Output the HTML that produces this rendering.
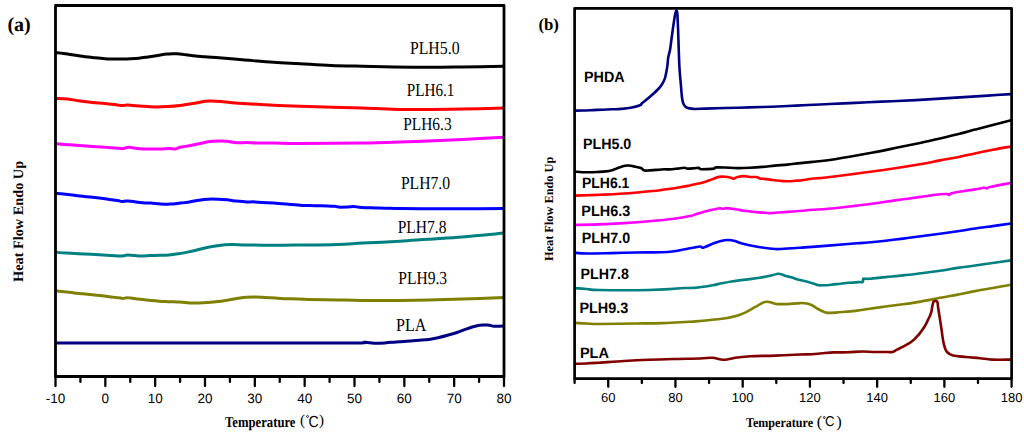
<!DOCTYPE html>
<html><head><meta charset="utf-8"><title>DSC curves</title>
<style>html,body{margin:0;padding:0;background:#fff;width:1024px;height:433px;overflow:hidden}svg{display:block}text{text-rendering:geometricPrecision}</style>
</head><body>
<svg width="1024" height="433" viewBox="0 0 1024 433">
<path d="M55 52.5 C57.08 52.75 63.33 53.42 67.5 54 C71.67 54.58 75.83 55.42 80 56 C84.17 56.58 88.33 57.04 92.5 57.5 C96.67 57.96 100.42 58.48 105 58.75 C109.58 59.02 115.93 59.09 120 59.1 C124.07 59.11 126.23 58.95 129.4 58.8 C132.57 58.65 135.9 58.52 139 58.2 C142.1 57.88 144.83 57.37 148 56.9 C151.17 56.43 154.83 55.87 158 55.4 C161.17 54.93 164.67 54.38 167 54.1 C169.33 53.82 170.33 53.75 172 53.7 C173.67 53.65 174.67 53.62 177 53.8 C179.33 53.98 182.9 54.43 186 54.8 C189.1 55.17 192.43 55.68 195.6 56 C198.77 56.32 201.6 56.43 205 56.7 C208.4 56.97 209.75 57.09 216 57.6 C222.25 58.11 232.88 58.97 242.5 59.75 C252.12 60.53 264.17 61.64 273.75 62.3 C283.33 62.96 290.46 63.18 300 63.7 C309.54 64.22 320.58 64.98 331 65.4 C341.42 65.83 352.04 66 362.5 66.25 C372.96 66.5 382.33 66.73 393.75 66.9 C405.17 67.07 419.54 67.25 431 67.25 C442.46 67.25 450.33 67.07 462.5 66.9 C474.67 66.73 497.08 66.36 504 66.25" fill="none" stroke="#000000" stroke-width="3.0" stroke-linejoin="round" stroke-linecap="butt"/>
<path d="M55 98.5 C57.08 98.58 63.33 98.58 67.5 99 C71.67 99.42 75.83 100.42 80 101 C84.17 101.58 88.33 102.08 92.5 102.5 C96.67 102.92 100.83 103.08 105 103.5 C109.17 103.92 114.58 104.65 117.5 105 C120.42 105.35 120.83 105.6 122.5 105.6 C124.17 105.6 124.17 104.89 127.5 105 C130.83 105.11 137.92 105.93 142.5 106.25 C147.08 106.57 150.83 106.86 155 106.9 C159.17 106.94 163.33 106.75 167.5 106.5 C171.67 106.25 175.83 105.9 180 105.4 C184.17 104.9 188.33 104.19 192.5 103.5 C196.67 102.81 201.88 101.68 205 101.25 C208.12 100.82 208.54 100.86 211.25 100.9 C213.96 100.94 218.12 101.23 221.25 101.5 C224.38 101.77 226.46 102.18 230 102.5 C233.54 102.82 235.21 102.94 242.5 103.4 C249.79 103.86 264.17 104.78 273.75 105.25 C283.33 105.72 285.21 105.78 300 106.25 C314.79 106.72 345.83 107.57 362.5 108.1 C379.17 108.62 389.08 109.18 400 109.4 C410.92 109.62 417.58 109.45 428 109.4 C438.42 109.35 449.83 109.32 462.5 109.1 C475.17 108.88 497.08 108.27 504 108.1" fill="none" stroke="#ff0000" stroke-width="3.0" stroke-linejoin="round" stroke-linecap="butt"/>
<path d="M55 143.5 C56.57 143.65 61.23 144.13 64.4 144.4 C67.57 144.67 70.9 144.87 74 145.1 C77.1 145.33 79.92 145.57 83 145.8 C86.08 146.03 89.33 146.28 92.5 146.5 C95.67 146.72 98.92 146.9 102 147.1 C105.08 147.3 107.9 147.47 111 147.7 C114.1 147.93 118.6 148.35 120.6 148.5 C122.6 148.65 121.93 148.78 123 148.6 C124.07 148.42 125.67 147.58 127 147.4 C128.33 147.22 128.88 147.27 131 147.5 C133.12 147.73 136.37 148.55 139.7 148.8 C143.03 149.05 147.55 148.97 151 149 C154.45 149.03 157.23 149.1 160.4 149 C163.57 148.9 167.57 148.4 170 148.4 C172.43 148.4 173.33 149.18 175 149 C176.67 148.82 177.6 147.85 180 147.3 C182.4 146.75 186.23 146.28 189.4 145.7 C192.57 145.12 195.9 144.45 199 143.8 C202.1 143.15 204.83 142.27 208 141.8 C211.17 141.33 214.83 141.08 218 141 C221.17 140.92 223.92 141 227 141.3 C230.08 141.6 233.17 142.58 236.5 142.8 C239.83 143.02 243.92 142.58 247 142.6 C250.08 142.62 250.54 142.82 255 142.9 C259.46 142.98 266.25 143.02 273.75 143.1 C281.25 143.18 285.21 143.4 300 143.4 C314.79 143.4 345.83 143.32 362.5 143.1 C379.17 142.88 389.08 142.45 400 142.1 C410.92 141.75 417.58 141.45 428 141 C438.42 140.55 449.83 140.03 462.5 139.4 C475.17 138.78 497.08 137.61 504 137.25" fill="none" stroke="#ff00ff" stroke-width="3.0" stroke-linejoin="round" stroke-linecap="butt"/>
<path d="M55 193.4 C57.08 193.57 63.33 193.97 67.5 194.4 C71.67 194.83 75.83 195.53 80 196 C84.17 196.47 88.33 196.79 92.5 197.25 C96.67 197.71 100.83 198.19 105 198.75 C109.17 199.31 114.67 200.14 117.5 200.6 C120.33 201.06 120.25 201.43 122 201.5 C123.75 201.57 124.58 200.79 128 201 C131.42 201.21 138.67 202.4 142.5 202.75 C146.33 203.1 148.02 202.91 151 203.1 C153.98 203.29 157.23 203.73 160.4 203.9 C163.57 204.07 166.73 204.23 170 204.1 C173.27 203.97 176.77 203.45 180 203.1 C183.23 202.75 186.23 202.48 189.4 202 C192.57 201.52 195.9 200.67 199 200.2 C202.1 199.73 204.83 199.37 208 199.2 C211.17 199.03 214.83 199.1 218 199.2 C221.17 199.3 223.92 199.48 227 199.8 C230.08 200.12 233.17 200.73 236.5 201.1 C239.83 201.47 243.92 201.87 247 202 C250.08 202.13 250.54 201.72 255 201.9 C259.46 202.08 266.25 202.55 273.75 203.1 C281.25 203.65 294.06 204.82 300 205.2 C305.94 205.58 306.23 205.3 309.4 205.4 C312.57 205.5 315.9 205.68 319 205.8 C322.1 205.92 325.33 206.02 328 206.1 C330.67 206.18 333.25 206.13 335 206.3 C336.75 206.47 336.5 206.98 338.5 207.1 C340.5 207.22 344.42 207.1 347 207 C349.58 206.9 352 206.45 354 206.5 C356 206.55 357 207.1 359 207.3 C361 207.5 363.25 207.6 366 207.7 C368.75 207.8 372.33 207.82 375.5 207.9 C378.67 207.98 381.58 208.1 385 208.2 C388.42 208.3 393.5 208.45 396 208.5 C398.5 208.55 394.67 208.46 400 208.5 C405.33 208.54 417.58 208.71 428 208.75 C438.42 208.79 449.83 208.79 462.5 208.75 C475.17 208.71 497.08 208.54 504 208.5" fill="none" stroke="#0000ff" stroke-width="3.0" stroke-linejoin="round" stroke-linecap="butt"/>
<path d="M55 252.2 C57 252.35 62 252.8 67 253.1 C72 253.4 79 253.68 85 254 C91 254.32 98 254.72 103 255 C108 255.28 111.83 255.52 115 255.7 C118.17 255.88 119.83 256.23 122 256.1 C124.17 255.97 124.83 254.92 128 254.9 C131.17 254.88 137.33 255.9 141 256 C144.67 256.1 146.93 255.62 150 255.5 C153.07 255.38 156.28 255.4 159.4 255.3 C162.52 255.2 165.6 255.16 168.7 254.9 C171.8 254.64 174.87 254.22 178 253.75 C181.13 253.28 184.33 252.72 187.5 252.1 C190.67 251.47 193.92 250.72 197 250 C200.08 249.28 202.9 248.47 206 247.8 C209.1 247.13 212.43 246.51 215.6 246 C218.77 245.49 221.93 244.98 225 244.75 C228.07 244.52 230.5 244.56 234 244.6 C237.5 244.64 239.38 244.89 246 245 C252.62 245.11 264.75 245.25 273.75 245.25 C282.75 245.25 289.38 245.14 300 245 C310.62 244.86 327.08 244.72 337.5 244.4 C347.92 244.08 352.08 243.62 362.5 243.1 C372.92 242.57 389.08 241.9 400 241.25 C410.92 240.6 417.58 239.92 428 239.2 C438.42 238.47 449.83 237.92 462.5 236.9 C475.17 235.88 497.08 233.73 504 233.1" fill="none" stroke="#008080" stroke-width="3.0" stroke-linejoin="round" stroke-linecap="butt"/>
<path d="M55 290.75 C56.57 290.91 61.23 291.34 64.4 291.7 C67.57 292.06 70.9 292.55 74 292.9 C77.1 293.25 79.92 293.48 83 293.8 C86.08 294.12 89.33 294.48 92.5 294.8 C95.67 295.12 98.92 295.35 102 295.7 C105.08 296.05 107.9 296.5 111 296.9 C114.1 297.3 118.6 297.85 120.6 298.1 C122.6 298.35 121.93 298.47 123 298.4 C124.07 298.33 125.67 297.75 127 297.7 C128.33 297.65 128.88 297.85 131 298.1 C133.12 298.35 136.37 298.82 139.7 299.2 C143.03 299.58 146.78 300.02 151 300.4 C155.22 300.78 160.17 301.22 165 301.5 C169.83 301.78 175.93 301.87 180 302.1 C184.07 302.33 186.23 302.75 189.4 302.9 C192.57 303.05 195.9 303.07 199 303 C202.1 302.93 204.83 302.73 208 302.5 C211.17 302.27 214.83 301.98 218 301.6 C221.17 301.22 223.92 300.72 227 300.2 C230.08 299.68 233.33 298.98 236.5 298.5 C239.67 298.02 242.92 297.57 246 297.3 C249.08 297.03 251.9 296.88 255 296.9 C258.1 296.92 261.1 297.2 264.6 297.4 C268.1 297.6 271.77 297.87 276 298.1 C280.23 298.33 284.67 298.58 290 298.8 C295.33 299.02 300.08 299.2 308 299.4 C315.92 299.6 328.42 299.83 337.5 300 C346.58 300.17 352.08 300.33 362.5 300.4 C372.92 300.47 389.08 300.47 400 300.4 C410.92 300.33 417.58 300.23 428 300 C438.42 299.77 449.83 299.42 462.5 299 C475.17 298.58 497.08 297.75 504 297.5" fill="none" stroke="#808000" stroke-width="3.0" stroke-linejoin="round" stroke-linecap="butt"/>
<path d="M55 343 C79.17 343 159.17 343.02 200 343 C240.83 342.98 273.08 342.92 300 342.9 C326.92 342.88 350.83 343.02 361.5 342.9 C372.17 342.78 362.58 342.22 364 342.2 C365.42 342.18 368 342.62 370 342.8 C372 342.98 373.5 343.28 376 343.3 C378.5 343.32 381.67 343.12 385 342.9 C388.33 342.68 392.83 342.25 396 342 C399.17 341.75 401.67 341.57 404 341.4 C406.33 341.23 407.43 341.18 410 341 C412.57 340.82 416.23 340.57 419.4 340.3 C422.57 340.03 425.9 339.83 429 339.4 C432.1 338.97 434.92 338.38 438 337.7 C441.08 337.02 444.33 336.17 447.5 335.3 C450.67 334.43 453.92 333.52 457 332.5 C460.08 331.48 463.33 330.15 466 329.2 C468.67 328.25 471 327.43 473 326.8 C475 326.17 476.33 325.7 478 325.4 C479.67 325.1 481.33 325.05 483 325 C484.67 324.95 486.67 325 488 325.1 C489.33 325.2 490 325.4 491 325.6 C492 325.8 492.5 326.2 494 326.3 C495.5 326.4 498.33 326.25 500 326.2 C501.67 326.15 503.33 326.03 504 326" fill="none" stroke="#000080" stroke-width="3.0" stroke-linejoin="round" stroke-linecap="butt"/>
<path d="M574 110.6 C575.57 110.58 580.23 110.58 583.4 110.5 C586.57 110.42 589.9 110.23 593 110.1 C596.1 109.97 598.83 109.83 602 109.7 C605.17 109.57 608.83 109.43 612 109.3 C615.17 109.17 617.9 109.15 621 108.9 C624.1 108.65 627.43 108.42 630.6 107.8 C633.77 107.18 638.07 106 640 105.2 C641.93 104.4 641.18 103.87 642.2 103 C643.22 102.13 644.43 101.37 646.1 100 C647.77 98.63 650.17 96.63 652.2 94.8 C654.23 92.97 656.63 90.8 658.3 89 C659.97 87.2 661.08 85.83 662.2 84 C663.32 82.17 664.17 80.83 665 78 C665.83 75.17 666.65 70.5 667.2 67 C667.75 63.5 667.83 59.83 668.3 57 C668.77 54.17 669.47 53 670 50 C670.53 47 671 42.67 671.5 39 C672 35.33 672.5 31.5 673 28 C673.5 24.5 674.07 20.62 674.5 18 C674.93 15.38 675.28 13.58 675.6 12.3 C675.92 11.02 676.13 10.3 676.4 10.3 C676.67 10.3 677 11.02 677.2 12.3 C677.4 13.58 677.45 15.05 677.6 18 C677.75 20.95 677.93 25.5 678.1 30 C678.27 34.5 678.43 40 678.6 45 C678.77 50 678.93 55.83 679.1 60 C679.27 64.17 679.3 65.83 679.6 70 C679.9 74.17 680.5 80.42 680.9 85 C681.3 89.58 681.58 94.38 682 97.5 C682.42 100.62 682.65 102.08 683.4 103.75 C684.15 105.42 684.82 106.64 686.5 107.5 C688.18 108.36 690.42 108.72 693.5 108.9 C696.58 109.08 699.75 108.75 705 108.6 C710.25 108.45 717.5 108.2 725 108 C732.5 107.8 742.17 107.62 750 107.4 C757.83 107.18 764.33 107 772 106.7 C779.67 106.4 788 105.97 796 105.6 C804 105.23 812 104.87 820 104.5 C828 104.13 836 103.78 844 103.4 C852 103.02 860 102.57 868 102.2 C876 101.83 884 101.55 892 101.2 C900 100.85 908 100.53 916 100.1 C924 99.67 932 99.1 940 98.6 C948 98.1 956 97.6 964 97.1 C972 96.6 980.17 96.1 988 95.6 C995.83 95.1 1007.17 94.35 1011 94.1" fill="none" stroke="#000080" stroke-width="2.6" stroke-linejoin="round" stroke-linecap="butt"/>
<path d="M574 171.5 C576.08 171.62 582.33 172.18 586.5 172.25 C590.67 172.32 595.75 172.04 599 171.9 C602.25 171.76 603.83 171.68 606 171.4 C608.17 171.12 609.92 170.82 612 170.2 C614.08 169.58 616.38 168.43 618.5 167.7 C620.62 166.97 623.08 166.17 624.75 165.8 C626.42 165.43 626.96 165.4 628.5 165.5 C630.04 165.6 631.92 165.98 634 166.4 C636.08 166.82 639.33 167.33 641 168 C642.67 168.67 642.83 169.98 644 170.4 C645.17 170.82 646 170.58 648 170.5 C650 170.42 653.33 170.1 656 169.9 C658.67 169.7 661.67 169.38 664 169.3 C666.33 169.22 667.75 169.52 670 169.4 C672.25 169.28 675.08 168.88 677.5 168.6 C679.92 168.32 682.92 167.7 684.5 167.7 C686.08 167.7 685.42 168.5 687 168.6 C688.58 168.7 692.08 168.42 694 168.3 C695.92 168.18 697.33 167.75 698.5 167.9 C699.67 168.05 699.5 169 701 169.2 C702.5 169.4 705.33 169.2 707.5 169.1 C709.67 169 712.58 168.88 714 168.6 C715.42 168.32 714.17 167.58 716 167.4 C717.83 167.22 721.42 167.38 725 167.5 C728.58 167.62 733.33 168.06 737.5 168.1 C741.67 168.14 745.83 167.95 750 167.75 C754.17 167.55 758.33 167.26 762.5 166.9 C766.67 166.54 770.83 165.98 775 165.6 C779.17 165.22 783.33 165.02 787.5 164.6 C791.67 164.18 795.83 163.55 800 163.1 C804.17 162.65 808.17 162.33 812.5 161.9 C816.83 161.47 819.85 161.37 826 160.5 C832.15 159.63 841.58 158.03 849.4 156.7 C857.22 155.37 865.08 153.98 872.9 152.5 C880.72 151.02 888.45 149.4 896.3 147.8 C904.15 146.2 912.72 144.47 920 142.9 C927.28 141.33 933.73 139.85 940 138.4 C946.27 136.95 951.77 135.67 957.6 134.2 C963.43 132.73 969.15 131.13 975 129.6 C980.85 128.07 986.7 126.57 992.7 125 C998.7 123.43 1007.95 121 1011 120.2" fill="none" stroke="#000000" stroke-width="2.6" stroke-linejoin="round" stroke-linecap="butt"/>
<path d="M574 195.6 C576.17 195.55 582.67 195.43 587 195.3 C591.33 195.17 594.5 195.05 600 194.8 C605.5 194.55 613.33 194.23 620 193.8 C626.67 193.37 633.33 192.8 640 192.2 C646.67 191.6 653.33 191.02 660 190.2 C666.67 189.38 675 188.1 680 187.3 C685 186.5 686.67 186.07 690 185.4 C693.33 184.73 697.33 183.93 700 183.3 C702.67 182.67 703.92 182.3 706 181.6 C708.08 180.9 710.33 179.88 712.5 179.1 C714.67 178.32 716.92 177.29 719 176.9 C721.08 176.51 723 176.6 725 176.75 C727 176.9 729.58 177.48 731 177.8 C732.42 178.12 732.42 178.83 733.5 178.7 C734.58 178.57 735.75 177.43 737.5 177 C739.25 176.57 741.92 176.1 744 176.1 C746.08 176.1 748 176.85 750 177 C752 177.15 754.33 176.77 756 177 C757.67 177.23 758.67 178.08 760 178.4 C761.33 178.72 762.33 178.7 764 178.9 C765.67 179.1 767.92 179.33 770 179.6 C772.08 179.87 774.33 180.25 776.5 180.5 C778.67 180.75 780.92 180.97 783 181.1 C785.08 181.22 787 181.3 789 181.25 C791 181.2 792.83 180.98 795 180.8 C797.17 180.62 799.83 180.46 802 180.2 C804.17 179.94 806 179.53 808 179.25 C810 178.97 812 178.69 814 178.5 C816 178.31 817.67 178.31 820 178.1 C822.33 177.89 821.83 178.02 828 177.25 C834.17 176.48 846.92 174.84 857 173.5 C867.08 172.16 878 170.75 888.5 169.2 C899 167.65 911.42 165.67 920 164.2 C928.58 162.73 933.73 161.57 940 160.4 C946.27 159.23 951.77 158.37 957.6 157.2 C963.43 156.03 969.15 154.63 975 153.4 C980.85 152.17 986.7 150.95 992.7 149.8 C998.7 148.65 1007.95 147.05 1011 146.5" fill="none" stroke="#ff0000" stroke-width="2.6" stroke-linejoin="round" stroke-linecap="butt"/>
<path d="M574 225 C578.17 224.9 590.67 224.72 599 224.4 C607.33 224.08 615.67 223.62 624 223.1 C632.33 222.57 640.67 221.97 649 221.25 C657.33 220.53 667.17 219.61 674 218.75 C680.83 217.89 686.33 216.86 690 216.1 C693.67 215.34 693.92 214.83 696 214.2 C698.08 213.57 700.33 212.93 702.5 212.3 C704.67 211.67 706.92 210.92 709 210.4 C711.08 209.88 713.17 209.56 715 209.2 C716.83 208.84 718.75 208.32 720 208.25 C721.25 208.18 721.33 208.78 722.5 208.75 C723.67 208.72 725.58 208.12 727 208.1 C728.42 208.07 729.25 208.37 731 208.6 C732.75 208.83 735.33 209.14 737.5 209.5 C739.67 209.86 741.92 210.43 744 210.75 C746.08 211.07 748 211.18 750 211.4 C752 211.62 753.92 211.9 756 212.1 C758.08 212.3 760 212.43 762.5 212.6 C765 212.77 766.83 213.22 771 213.1 C775.17 212.98 782.67 212.25 787.5 211.9 C792.33 211.55 795.83 211.36 800 211 C804.17 210.64 807.83 210.12 812.5 209.75 C817.17 209.38 820.58 209.44 828 208.75 C835.42 208.06 850.33 206.34 857 205.6 C863.67 204.86 863.23 204.93 868 204.3 C872.77 203.67 879.77 202.63 885.6 201.8 C891.43 200.97 897.15 200.12 903 199.3 C908.85 198.48 914.53 197.73 920.7 196.9 C926.87 196.07 935.62 194.78 940 194.3 C944.38 193.82 945.5 193.88 947 194 C948.5 194.12 948.33 195.07 949 195 C949.67 194.93 949.57 194.1 951 193.6 C952.43 193.1 953.6 192.7 957.6 192 C961.6 191.3 970.6 190.1 975 189.4 C979.4 188.7 982 187.95 984 187.8 C986 187.65 986 188.63 987 188.5 C988 188.37 986 187.92 990 187 C994 186.08 1007.5 183.67 1011 183" fill="none" stroke="#ff00ff" stroke-width="2.6" stroke-linejoin="round" stroke-linecap="butt"/>
<path d="M574 252.75 C576.08 252.88 580.25 253.44 586.5 253.5 C592.75 253.56 603.17 253.27 611.5 253.1 C619.83 252.93 628.17 252.64 636.5 252.5 C644.83 252.36 655.25 252.46 661.5 252.25 C667.75 252.04 669.83 251.79 674 251.25 C678.17 250.71 682.17 249.79 686.5 249 C690.83 248.21 697.25 246.71 700 246.5 C702.75 246.29 700.92 248.21 703 247.75 C705.08 247.29 709.67 244.83 712.5 243.75 C715.33 242.67 717.42 241.88 720 241.25 C722.58 240.62 725.5 240.04 728 240 C730.5 239.96 732.5 240.38 735 241 C737.5 241.62 739.5 242.83 743 243.75 C746.5 244.67 750.67 245.62 756 246.5 C761.33 247.38 769.75 248.67 775 249 C780.25 249.33 783.33 248.71 787.5 248.5 C791.67 248.29 795.83 248.02 800 247.75 C804.17 247.48 807.83 247.26 812.5 246.9 C817.17 246.54 820.58 246.2 828 245.6 C835.42 245 850.33 243.82 857 243.3 C863.67 242.78 863.23 242.93 868 242.5 C872.77 242.07 879.77 241.35 885.6 240.7 C891.43 240.05 897.15 239.33 903 238.6 C908.85 237.87 914.53 237.1 920.7 236.3 C926.87 235.5 933.85 234.63 940 233.8 C946.15 232.97 951.77 232.18 957.6 231.3 C963.43 230.42 969.15 229.37 975 228.5 C980.85 227.63 986.7 226.93 992.7 226.1 C998.7 225.27 1007.95 223.93 1011 223.5" fill="none" stroke="#0000ff" stroke-width="2.6" stroke-linejoin="round" stroke-linecap="butt"/>
<path d="M574 288.1 C576.08 288.25 582.33 288.68 586.5 289 C590.67 289.32 588.58 289.83 599 290 C609.42 290.17 636.5 290.2 649 290 C661.5 289.8 668.1 289.13 674 288.8 C679.9 288.47 681.07 288.15 684.4 288 C687.73 287.85 690.83 288.1 694 287.9 C697.17 287.7 700.28 287.25 703.4 286.8 C706.52 286.35 709.6 285.78 712.7 285.2 C715.8 284.62 718.87 283.92 722 283.3 C725.13 282.68 728.33 282.03 731.5 281.5 C734.67 280.97 737.92 280.5 741 280.1 C744.08 279.7 746.83 279.5 750 279.1 C753.17 278.7 756.75 278.25 760 277.7 C763.25 277.15 767.17 276.28 769.5 275.8 C771.83 275.32 772.58 275.13 774 274.8 C775.42 274.47 776.67 273.87 778 273.8 C779.33 273.73 780.72 274.02 782 274.4 C783.28 274.78 784.37 275.68 785.7 276.1 C787.03 276.52 788.78 276.62 790 276.9 C791.22 277.18 791.83 277.42 793 277.8 C794.17 278.18 794.75 278.57 797 279.2 C799.25 279.83 803.33 280.73 806.5 281.6 C809.67 282.47 814 283.8 816 284.4 C818 285 817.33 285.05 818.5 285.2 C819.67 285.35 820.83 285.38 823 285.3 C825.17 285.22 828.67 284.96 831.5 284.7 C834.33 284.44 837.08 284.07 840 283.75 C842.92 283.43 845.88 283.07 849 282.8 C852.12 282.53 856.4 282.25 858.7 282.1 C861 281.95 862.05 282.45 862.8 281.9 C863.55 281.35 862.67 279.32 863.2 278.8 C863.73 278.28 864.87 278.82 866 278.8 C867.13 278.78 866.73 278.98 870 278.7 C873.27 278.42 880.1 277.65 885.6 277.1 C891.1 276.55 897.15 276.04 903 275.4 C908.85 274.76 914.53 274.03 920.7 273.25 C926.87 272.47 933.85 271.59 940 270.7 C946.15 269.81 951.77 268.77 957.6 267.9 C963.43 267.03 969.15 266.32 975 265.5 C980.85 264.68 986.7 263.85 992.7 263 C998.7 262.15 1007.95 260.83 1011 260.4" fill="none" stroke="#008080" stroke-width="2.6" stroke-linejoin="round" stroke-linecap="butt"/>
<path d="M574 322.75 C576.08 322.88 582.33 323.29 586.5 323.5 C590.67 323.71 590.67 324 599 324 C607.33 324 626.08 323.65 636.5 323.5 C646.92 323.35 654.25 323.32 661.5 323.1 C668.75 322.88 675.35 322.42 680 322.2 C684.65 321.98 686.28 321.98 689.4 321.8 C692.52 321.62 695.6 321.37 698.7 321.1 C701.8 320.83 704.87 320.52 708 320.2 C711.13 319.88 714.33 319.57 717.5 319.2 C720.67 318.83 723.92 318.52 727 318 C730.08 317.48 732.9 317.03 736 316.1 C739.1 315.17 742.43 313.88 745.6 312.4 C748.77 310.92 752.1 308.83 755 307.2 C757.9 305.57 760.92 303.5 763 302.6 C765.08 301.7 766.08 301.8 767.5 301.8 C768.92 301.8 770.08 302.23 771.5 302.6 C772.92 302.97 774.58 303.75 776 304 C777.42 304.25 778.08 304.08 780 304.1 C781.92 304.12 784.17 304.27 787.5 304.1 C790.83 303.93 796.75 303.2 800 303.1 C803.25 303 804.92 303.1 807 303.5 C809.08 303.9 810.67 304.58 812.5 305.5 C814.33 306.42 816.08 307.92 818 309 C819.92 310.08 822.33 311.35 824 312 C825.67 312.65 826 312.8 828 312.9 C830 313 833.17 312.78 836 312.6 C838.83 312.42 841.5 312.13 845 311.8 C848.5 311.47 853.17 311.07 857 310.6 C860.83 310.13 863.23 309.68 868 309 C872.77 308.32 879.77 307.28 885.6 306.5 C891.43 305.72 897.15 305.12 903 304.3 C908.85 303.48 914.53 302.68 920.7 301.6 C926.87 300.52 933.85 298.97 940 297.8 C946.15 296.63 951.77 295.72 957.6 294.6 C963.43 293.48 969.15 292.2 975 291.1 C980.85 290 986.7 289.07 992.7 288 C998.7 286.93 1007.95 285.25 1011 284.7" fill="none" stroke="#808000" stroke-width="2.6" stroke-linejoin="round" stroke-linecap="butt"/>
<path d="M574 363.75 C576.08 363.71 582.33 363.67 586.5 363.5 C590.67 363.33 592.75 363.17 599 362.75 C605.25 362.33 615.67 361.5 624 361 C632.33 360.5 640.67 360.08 649 359.75 C657.33 359.42 665.5 359.21 674 359 C682.5 358.79 693.58 358.71 700 358.5 C706.42 358.29 708.58 357.54 712.5 357.75 C716.42 357.96 719.33 359.79 723.5 359.75 C727.67 359.71 733.08 358.08 737.5 357.5 C741.92 356.92 743.75 356.57 750 356.25 C756.25 355.93 766.67 355.89 775 355.6 C783.33 355.31 793.83 354.73 800 354.5 C806.17 354.27 808.33 354.4 812 354.2 C815.67 354 818.33 353.6 822 353.3 C825.67 353 829.67 352.57 834 352.4 C838.33 352.23 843.33 352.45 848 352.3 C852.67 352.15 857.67 351.55 862 351.5 C866.33 351.45 870.17 351.92 874 352 C877.83 352.08 881.92 352.02 885 352 C888.08 351.98 890.5 352.3 892.5 351.9 C894.5 351.5 895.25 350.47 897 349.6 C898.75 348.73 901 347.73 903 346.7 C905 345.67 907.25 344.52 909 343.4 C910.75 342.28 912.33 340.98 913.5 340 C914.67 339.02 915.02 338.52 916 337.5 C916.98 336.48 918.37 335.15 919.4 333.9 C920.43 332.65 921.33 331.23 922.2 330 C923.07 328.77 923.87 327.7 924.6 326.5 C925.33 325.3 925.97 324.05 926.6 322.8 C927.23 321.55 927.82 320.23 928.4 319 C928.98 317.77 929.6 316.62 930.1 315.4 C930.6 314.18 931.08 312.93 931.4 311.7 C931.72 310.47 931.8 309.12 932 308 C932.2 306.88 932.37 306.02 932.6 305 C932.83 303.98 933 302.57 933.4 301.9 C933.8 301.23 934.48 301.13 935 301 C935.52 300.87 936.08 300.88 936.5 301.1 C936.92 301.32 937.22 301.15 937.5 302.3 C937.78 303.45 937.9 305.88 938.2 308 C938.5 310.12 938.98 313 939.3 315 C939.62 317 939.72 317.5 940.1 320 C940.48 322.5 941.12 326.67 941.6 330 C942.08 333.33 942.52 337.25 943 340 C943.48 342.75 943.83 344.5 944.5 346.5 C945.17 348.5 945.58 350.5 947 352 C948.42 353.5 949.83 354.67 953 355.5 C956.17 356.33 961.5 356.55 966 357 C970.5 357.45 975.67 357.77 980 358.2 C984.33 358.63 986.83 359.37 992 359.6 C997.17 359.83 1007.83 359.6 1011 359.6" fill="none" stroke="#800000" stroke-width="2.6" stroke-linejoin="round" stroke-linecap="butt"/>
<path d="M55.5 376.5 L55.5 5.5 L504 5.5 L504 376.5 Z" fill="none" stroke="#000" stroke-width="2.8" stroke-linejoin="round"/>
<line x1="55.5" y1="376.5" x2="55.5" y2="386.1" stroke="#000" stroke-width="2.3" stroke-linecap="round"/>
<line x1="80.42" y1="376.5" x2="80.42" y2="381.9" stroke="#000" stroke-width="2.3" stroke-linecap="round"/>
<line x1="105.33" y1="376.5" x2="105.33" y2="386.1" stroke="#000" stroke-width="2.3" stroke-linecap="round"/>
<line x1="130.25" y1="376.5" x2="130.25" y2="381.9" stroke="#000" stroke-width="2.3" stroke-linecap="round"/>
<line x1="155.17" y1="376.5" x2="155.17" y2="386.1" stroke="#000" stroke-width="2.3" stroke-linecap="round"/>
<line x1="180.08" y1="376.5" x2="180.08" y2="381.9" stroke="#000" stroke-width="2.3" stroke-linecap="round"/>
<line x1="205" y1="376.5" x2="205" y2="386.1" stroke="#000" stroke-width="2.3" stroke-linecap="round"/>
<line x1="229.92" y1="376.5" x2="229.92" y2="381.9" stroke="#000" stroke-width="2.3" stroke-linecap="round"/>
<line x1="254.83" y1="376.5" x2="254.83" y2="386.1" stroke="#000" stroke-width="2.3" stroke-linecap="round"/>
<line x1="279.75" y1="376.5" x2="279.75" y2="381.9" stroke="#000" stroke-width="2.3" stroke-linecap="round"/>
<line x1="304.67" y1="376.5" x2="304.67" y2="386.1" stroke="#000" stroke-width="2.3" stroke-linecap="round"/>
<line x1="329.58" y1="376.5" x2="329.58" y2="381.9" stroke="#000" stroke-width="2.3" stroke-linecap="round"/>
<line x1="354.5" y1="376.5" x2="354.5" y2="386.1" stroke="#000" stroke-width="2.3" stroke-linecap="round"/>
<line x1="379.42" y1="376.5" x2="379.42" y2="381.9" stroke="#000" stroke-width="2.3" stroke-linecap="round"/>
<line x1="404.33" y1="376.5" x2="404.33" y2="386.1" stroke="#000" stroke-width="2.3" stroke-linecap="round"/>
<line x1="429.25" y1="376.5" x2="429.25" y2="381.9" stroke="#000" stroke-width="2.3" stroke-linecap="round"/>
<line x1="454.17" y1="376.5" x2="454.17" y2="386.1" stroke="#000" stroke-width="2.3" stroke-linecap="round"/>
<line x1="479.08" y1="376.5" x2="479.08" y2="381.9" stroke="#000" stroke-width="2.3" stroke-linecap="round"/>
<line x1="504" y1="376.5" x2="504" y2="386.1" stroke="#000" stroke-width="2.3" stroke-linecap="round"/>
<path d="M574.6 378.6 L574.6 8.4 L1011.6 8.4 L1011.6 378.6 Z" fill="none" stroke="#000" stroke-width="2.7" stroke-linejoin="round"/>
<line x1="574.6" y1="378.6" x2="574.6" y2="383" stroke="#000" stroke-width="2.3" stroke-linecap="round"/>
<line x1="608.22" y1="378.6" x2="608.22" y2="386.8" stroke="#000" stroke-width="2.3" stroke-linecap="round"/>
<line x1="641.83" y1="378.6" x2="641.83" y2="383" stroke="#000" stroke-width="2.3" stroke-linecap="round"/>
<line x1="675.45" y1="378.6" x2="675.45" y2="386.8" stroke="#000" stroke-width="2.3" stroke-linecap="round"/>
<line x1="709.06" y1="378.6" x2="709.06" y2="383" stroke="#000" stroke-width="2.3" stroke-linecap="round"/>
<line x1="742.68" y1="378.6" x2="742.68" y2="386.8" stroke="#000" stroke-width="2.3" stroke-linecap="round"/>
<line x1="776.29" y1="378.6" x2="776.29" y2="383" stroke="#000" stroke-width="2.3" stroke-linecap="round"/>
<line x1="809.91" y1="378.6" x2="809.91" y2="386.8" stroke="#000" stroke-width="2.3" stroke-linecap="round"/>
<line x1="843.52" y1="378.6" x2="843.52" y2="383" stroke="#000" stroke-width="2.3" stroke-linecap="round"/>
<line x1="877.14" y1="378.6" x2="877.14" y2="386.8" stroke="#000" stroke-width="2.3" stroke-linecap="round"/>
<line x1="910.75" y1="378.6" x2="910.75" y2="383" stroke="#000" stroke-width="2.3" stroke-linecap="round"/>
<line x1="944.37" y1="378.6" x2="944.37" y2="386.8" stroke="#000" stroke-width="2.3" stroke-linecap="round"/>
<line x1="977.98" y1="378.6" x2="977.98" y2="383" stroke="#000" stroke-width="2.3" stroke-linecap="round"/>
<line x1="1011.6" y1="378.6" x2="1011.6" y2="386.8" stroke="#000" stroke-width="2.3" stroke-linecap="round"/>
<text x="55.5" y="403" font-family="Liberation Sans" font-size="13.5" font-weight="normal" text-anchor="middle">-10</text>
<text x="105.33" y="403" font-family="Liberation Sans" font-size="13.5" font-weight="normal" text-anchor="middle">0</text>
<text x="155.17" y="403" font-family="Liberation Sans" font-size="13.5" font-weight="normal" text-anchor="middle">10</text>
<text x="205" y="403" font-family="Liberation Sans" font-size="13.5" font-weight="normal" text-anchor="middle">20</text>
<text x="254.83" y="403" font-family="Liberation Sans" font-size="13.5" font-weight="normal" text-anchor="middle">30</text>
<text x="304.67" y="403" font-family="Liberation Sans" font-size="13.5" font-weight="normal" text-anchor="middle">40</text>
<text x="354.5" y="403" font-family="Liberation Sans" font-size="13.5" font-weight="normal" text-anchor="middle">50</text>
<text x="404.33" y="403" font-family="Liberation Sans" font-size="13.5" font-weight="normal" text-anchor="middle">60</text>
<text x="454.17" y="403" font-family="Liberation Sans" font-size="13.5" font-weight="normal" text-anchor="middle">70</text>
<text x="504" y="403" font-family="Liberation Sans" font-size="13.5" font-weight="normal" text-anchor="middle">80</text>
<text x="608.22" y="401.8" font-family="Liberation Sans" font-size="13" font-weight="normal" text-anchor="middle">60</text>
<text x="675.45" y="401.8" font-family="Liberation Sans" font-size="13" font-weight="normal" text-anchor="middle">80</text>
<text x="742.68" y="401.8" font-family="Liberation Sans" font-size="13" font-weight="normal" text-anchor="middle">100</text>
<text x="809.91" y="401.8" font-family="Liberation Sans" font-size="13" font-weight="normal" text-anchor="middle">120</text>
<text x="877.14" y="401.8" font-family="Liberation Sans" font-size="13" font-weight="normal" text-anchor="middle">140</text>
<text x="944.37" y="401.8" font-family="Liberation Sans" font-size="13" font-weight="normal" text-anchor="middle">160</text>
<text x="1011.6" y="401.8" font-family="Liberation Sans" font-size="13" font-weight="normal" text-anchor="middle">180</text>
<text x="7.4" y="31" font-family="Liberation Serif" font-size="20" font-weight="bold" text-anchor="start">(a)</text>
<text x="538.4" y="29.8" font-family="Liberation Serif" font-size="16.8" font-weight="bold" text-anchor="start">(b)</text>
<text x="409.9" y="54.1" font-family="Liberation Serif" font-size="18.4" font-weight="normal" text-anchor="start" textLength="49.7" lengthAdjust="spacingAndGlyphs">PLH5.0</text>
<text x="406.7" y="95.5" font-family="Liberation Serif" font-size="18.4" font-weight="normal" text-anchor="start" textLength="47.7" lengthAdjust="spacingAndGlyphs">PLH6.1</text>
<text x="403.3" y="130.2" font-family="Liberation Serif" font-size="18.4" font-weight="normal" text-anchor="start" textLength="48.3" lengthAdjust="spacingAndGlyphs">PLH6.3</text>
<text x="400.9" y="189.4" font-family="Liberation Serif" font-size="18.4" font-weight="normal" text-anchor="start" textLength="49.2" lengthAdjust="spacingAndGlyphs">PLH7.0</text>
<text x="397.7" y="232.5" font-family="Liberation Serif" font-size="18.4" font-weight="normal" text-anchor="start" textLength="48.7" lengthAdjust="spacingAndGlyphs">PLH7.8</text>
<text x="398.3" y="284" font-family="Liberation Serif" font-size="18.4" font-weight="normal" text-anchor="start" textLength="48.8" lengthAdjust="spacingAndGlyphs">PLH9.3</text>
<text x="396" y="331.2" font-family="Liberation Serif" font-size="18.4" font-weight="normal" text-anchor="start" textLength="30.4" lengthAdjust="spacingAndGlyphs">PLA</text>
<text x="584" y="82.4" font-family="Liberation Sans" font-size="15" font-weight="bold" text-anchor="start" textLength="40.6" lengthAdjust="spacingAndGlyphs">PHDA</text>
<text x="583" y="149" font-family="Liberation Sans" font-size="15" font-weight="bold" text-anchor="start" textLength="48.3" lengthAdjust="spacingAndGlyphs">PLH5.0</text>
<text x="582" y="188.4" font-family="Liberation Sans" font-size="15" font-weight="bold" text-anchor="start" textLength="47.4" lengthAdjust="spacingAndGlyphs">PLH6.1</text>
<text x="581.3" y="215.9" font-family="Liberation Sans" font-size="15" font-weight="bold" text-anchor="start" textLength="48.9" lengthAdjust="spacingAndGlyphs">PLH6.3</text>
<text x="581.8" y="243.4" font-family="Liberation Sans" font-size="15" font-weight="bold" text-anchor="start" textLength="48.4" lengthAdjust="spacingAndGlyphs">PLH7.0</text>
<text x="580.6" y="278.9" font-family="Liberation Sans" font-size="15" font-weight="bold" text-anchor="start" textLength="48.2" lengthAdjust="spacingAndGlyphs">PLH7.8</text>
<text x="579.4" y="313.2" font-family="Liberation Sans" font-size="15" font-weight="bold" text-anchor="start" textLength="48.9" lengthAdjust="spacingAndGlyphs">PLH9.3</text>
<text x="579.9" y="358.4" font-family="Liberation Sans" font-size="15" font-weight="bold" text-anchor="start" textLength="29.1" lengthAdjust="spacingAndGlyphs">PLA</text>
<text x="225" y="426.9" font-family="Liberation Serif" font-size="15" font-weight="bold" text-anchor="start" textLength="70.5" lengthAdjust="spacingAndGlyphs">Temperature</text>
<text x="300" y="425" font-family="Liberation Serif" font-size="15" font-weight="normal" text-anchor="start">(</text>
<circle cx="307.5" cy="416.5" r="0.95" fill="none" stroke="#000" stroke-width="0.85"/>
<text x="308.6" y="426.8" font-family="Liberation Sans" font-size="16" font-weight="normal" text-anchor="start" textLength="10.2" lengthAdjust="spacingAndGlyphs">C</text>
<text x="319" y="425" font-family="Liberation Serif" font-size="15" font-weight="normal" text-anchor="start">)</text>
<text x="746" y="426.9" font-family="Liberation Serif" font-size="13.5" font-weight="bold" text-anchor="start" textLength="67" lengthAdjust="spacingAndGlyphs">Temperature</text>
<text x="816.7" y="426.5" font-family="Liberation Serif" font-size="16.5" font-weight="normal" text-anchor="start">(</text>
<circle cx="824.3" cy="417.5" r="0.95" fill="none" stroke="#000" stroke-width="0.85"/>
<text x="824.9" y="426.1" font-family="Liberation Sans" font-size="14.2" font-weight="normal" text-anchor="start" textLength="9.6" lengthAdjust="spacingAndGlyphs">C</text>
<text x="836.2" y="426.5" font-family="Liberation Serif" font-size="16.5" font-weight="normal" text-anchor="start">)</text>
<text transform="translate(22.9 281.9) rotate(-90)" font-family="Liberation Serif" font-size="14.3" font-weight="bold" textLength="121" lengthAdjust="spacingAndGlyphs">Heat Flow Endo Up</text>
<text transform="translate(552.8 261) rotate(-90)" font-family="Liberation Serif" font-size="12.3" font-weight="bold" textLength="104.3" lengthAdjust="spacingAndGlyphs">Heat Flow Endo Up</text>
</svg>
</body></html>
